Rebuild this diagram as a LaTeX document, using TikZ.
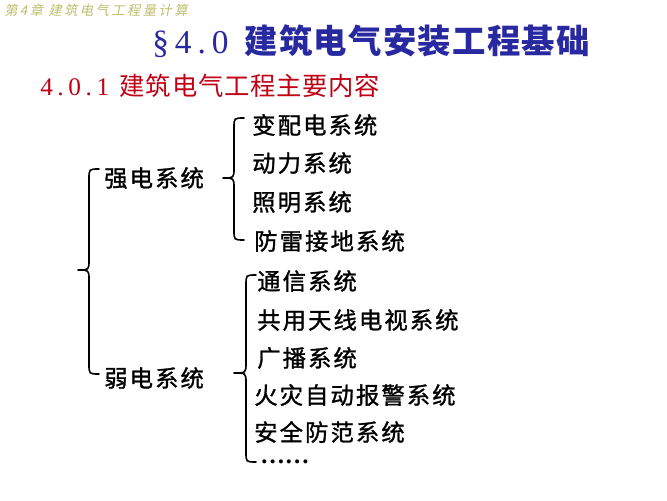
\documentclass[tikz,border=0pt]{standalone}
\usepackage{fontspec}
\setmainfont{Liberation Serif}
\newfontfamily\cjkbody[LetterSpace=9,FakeBold=1.2]{Noto Sans CJK SC}
\newfontfamily\cjktitle[LetterSpace=4]{Noto Sans CJK SC}
\newfontfamily\cjksub[LetterSpace=3]{Noto Sans CJK SC}
\newfontfamily\cjkhead[FakeSlant=0.2,LetterSpace=18]{Noto Sans CJK SC}
\newfontfamily\digits[LetterSpace=18]{Liberation Serif}
\definecolor{titleblue}{RGB}{40,40,160}
\definecolor{subred}{RGB}{192,0,20}
\definecolor{headolive}{RGB}{190,192,110}
\newcommand{\mybrace}[6]{% x, y1, y2, ym, d, r
  \draw[bracestyle] (#1+#6,#2) .. controls (#1,#2) .. (#1,#2+#6) -- (#1,#4-#6)
    .. controls (#1,#4) .. (#1-#5,#4) .. controls (#1,#4) .. (#1,#4+#6)
    -- (#1,#3-#6) .. controls (#1,#3) .. (#1+#6,#3);}
\begin{document}
\begin{tikzpicture}[x=0.75pt,y=-0.75pt,
  item/.style={anchor=west,inner sep=0pt,font=\fontsize{17.5}{20}\cjkbody},
  bracestyle/.style={line width=1.2pt,line cap=round,line join=round}]
\fill[white] (0,0) rectangle (667,500);
\useasboundingbox (0,0) rectangle (667,500);
% header
\node[anchor=west,inner sep=0pt,text=headolive,font=\fontsize{10}{12}\cjkhead] (head) at (4,10) {第\textit{4}章 建筑电气工程量计算};
% title
\node[anchor=west,inner sep=0pt,text=titleblue] (title) at (152,41)
  {{\fontsize{25}{28}\digits §4.0}\hspace{12pt}{\fontsize{25}{28}\cjktitle\bfseries 建筑电气安装工程基础}};
% subtitle
\node[anchor=west,inner sep=0pt,text=subred] (sub) at (40,86)
  {{\fontsize{19}{22}\digits 4.0.1}\hspace{8pt}{\fontsize{19}{22}\cjksub 建筑电气工程主要内容}};
% level 1
\node[item] (strong) at (104,178) {强电系统};
\node[item] (weak) at (104,378) {弱电系统};
% strong items
\node[item] (s1) at (252,125) {变配电系统};
\node[item] (s2) at (252,163) {动力系统};
\node[item] (s3) at (252,202) {照明系统};
\node[item] (s4) at (254,241) {防雷接地系统};
% weak items
\node[item] (w1) at (257,281) {通信系统};
\node[item] (w2) at (257,320) {共用天线电视系统};
\node[item] (w3) at (257,358) {广播系统};
\node[item] (w4) at (254,395) {火灾自动报警系统};
\node[item] (w5) at (254,432) {安全防范系统};
\node[anchor=west,inner sep=0pt,font=\fontsize{18.5}{20}\selectfont\bfseries] (w6) at (260,462) {……};
% braces
\mybrace{89}{169}{374}{270}{11}{10}
\mybrace{234}{118}{240}{178}{11}{10}
\mybrace{246}{275}{462}{373}{12}{10}
\end{tikzpicture}
\end{document}
